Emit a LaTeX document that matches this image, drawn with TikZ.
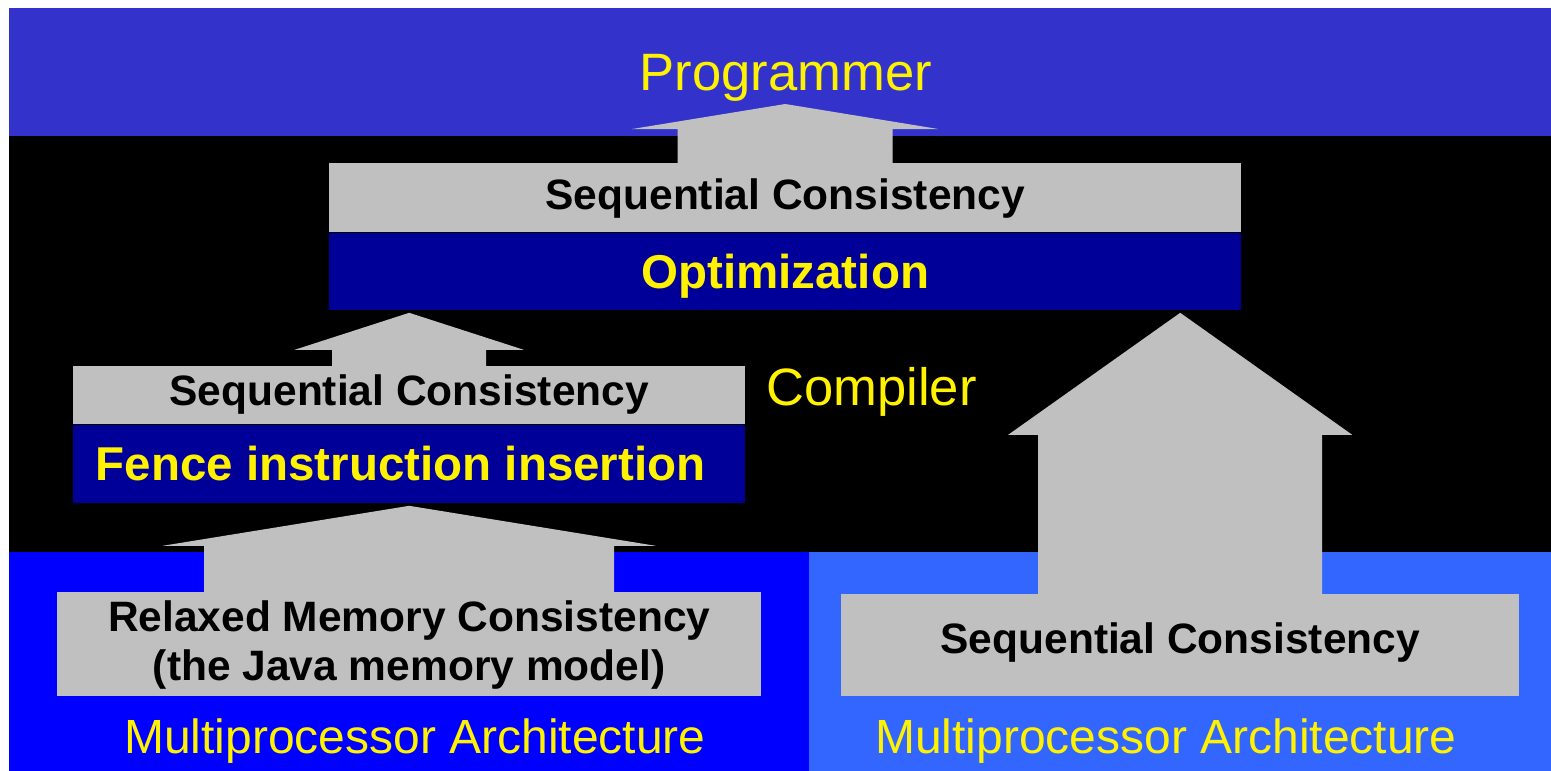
\documentclass[tikz,border=0pt]{standalone}
\usepackage{fontspec}
\setmainfont{Liberation Sans}
\usetikzlibrary{positioning,calc}

\definecolor{topband}{HTML}{3333CC}
\definecolor{leftband}{HTML}{0000FF}
\definecolor{rightband}{HTML}{3366FF}
\definecolor{boxgrey}{HTML}{C0C0C0}
\definecolor{darkband}{HTML}{000099}

\newcommand{\yellowreg}{\fontsize{52.6}{60}\selectfont}
\newcommand{\archfont}{\fontsize{48}{56}\selectfont}
\newcommand{\blackbold}{\fontsize{42.5}{49}\selectfont\bfseries}
\newcommand{\yellowbold}{\fontsize{47.5}{55}\selectfont\bfseries}

% block arrow: from, to, half shaft, half head, head length
\newcommand{\blockarrow}[5]{%
  \fill[boxgrey] let \p1=(#1), \p2=(#2) in
    (\x1-#3pt,\y1-2pt) -- (\x1-#3pt,\y2-#5pt) -- (\x1-#4pt,\y2-#5pt) -- (\x2,\y2)
    -- (\x1+#4pt,\y2-#5pt) -- (\x1+#3pt,\y2-#5pt) -- (\x1+#3pt,\y1-2pt) -- cycle;}

\begin{document}
\begin{tikzpicture}[x=1pt, y=-1pt,
greybox/.style ={rectangle, fill=boxgrey, text=black, font=\blackbold, inner sep=0pt, text height=30pt, text depth=0pt},
bluebox/.style ={rectangle, fill=darkband, text=yellow, font=\yellowbold, inner sep=0pt, text height=34pt, text depth=0pt},
captext/.style ={text=yellow, font=\yellowreg, inner sep=0pt}]
\useasboundingbox (0,0) rectangle (1551,771);
\fill[white] (0,0) rectangle (1551,771);

% bands
\fill[topband] (9,8) rectangle (1551,136);
\fill[black] (9,136) rectangle (1551,552);
\fill[leftband] (9,552) rectangle (809,771);
\fill[rightband] (809,552) rectangle (1551,771);

\node (prog) [captext, anchor=base] at (786,90) {Programmer};
\node (comp) [captext, anchor=base west] at (766,405) {Compiler};
\node (archl) [captext, font=\archfont, anchor=base] at (415,753) {Multiprocessor Architecture};
\node (archr) [captext, font=\archfont, anchor=base] at (1166,753) {Multiprocessor Architecture};

% boxes
\node (sctop) [greybox, anchor=north west, minimum width=912pt, minimum height=69pt, text depth=6pt] at (329,163) {Sequential Consistency};
\node (opt) [bluebox, below=0pt of sctop, minimum width=912pt, minimum height=77pt] {Optimization};
\node (scmid) [greybox, anchor=north west, minimum width=672pt, minimum height=58pt, text depth=10pt] at (73,366) {Sequential Consistency};
\node (fence) [bluebox, below=0pt of scmid, minimum width=672pt, minimum height=78pt] {Fence instruction insertion\kern17pt};
\node (rmc) [greybox, anchor=north west, minimum width=704pt, minimum height=104pt, align=center, text height=79pt, text depth=7pt] at (57,592) {Relaxed Memory Consistency\\(the Java memory model)};
\node (scright) [greybox, anchor=north west, minimum width=678pt, minimum height=102pt, text depth=14pt] at (841,594) {Sequential Consistency};

\coordinate (progtip) at ([yshift=59pt]sctop.north);

% arrows
\blockarrow{sctop.north}{progtip}{107.5}{153}{25}
\blockarrow{scmid.north}{$([yshift=-3pt]opt.south -| scmid.north)$}{77}{114.5}{37}
\blockarrow{rmc.north}{$([yshift=-3pt]fence.south -| rmc.north)$}{205}{246.5}{40}
\blockarrow{scright.north}{$([yshift=-3pt]opt.south -| scright.north)$}{142}{172}{122}
\end{tikzpicture}
\end{document}
